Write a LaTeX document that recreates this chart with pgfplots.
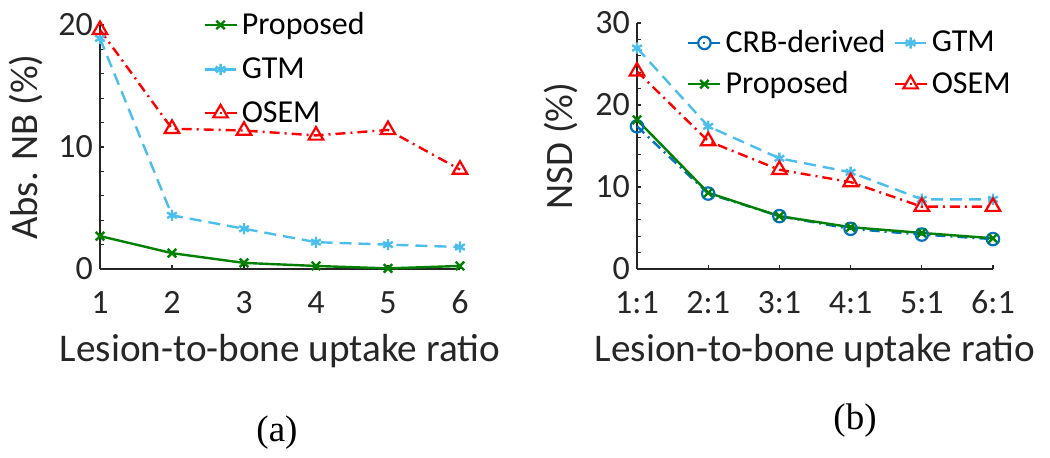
\documentclass[border=0pt]{standalone}
\usepackage{fontspec}
\setmainfont{Carlito}
\newfontfamily\timesfont{Liberation Serif}
\usepackage{pgfplots}
\pgfplotsset{compat=1.18}

\definecolor{cgreen}{rgb}{0,0.5,0}
\definecolor{cgtm}{rgb}{0.30,0.745,0.933}
\definecolor{cblue}{rgb}{0,0.447,0.741}
\definecolor{axgray}{rgb}{0.15,0.15,0.15}

\pgfplotsset{
  mystyle/.style={
    scale only axis,
    axis lines=left,
    axis line style={-, draw=axgray, line width=0.75pt},
    tick align=inside,
    major tick length=2.2pt, minor tick length=2.2pt,
    every tick/.append style={axgray, line width=0.6pt},
    /pgf/number format/assume math mode=true,
    tick label style={font=\fontsize{17}{20}\selectfont, text=axgray},
    xticklabel style={anchor=base, yshift=-22pt},
    yticklabel style={anchor=east},
    every axis x label/.style={at={(axis description cs:0.5,0)}, anchor=base, yshift=-46pt,
      font=\fontsize{19.6}{23}\selectfont, text=axgray},
    xtick={1,2,3,4,5,6},
    xmin=1, xmax=6, ymin=0,
    minor y tick num=4,
    clip=false,
    legend cell align=left,
    legend style={draw=none, fill=none, font=\fontsize{16}{19}\selectfont, text=black,
      inner sep=0pt, nodes={inner sep=2pt}},
    legend image code/.code={\draw[mark repeat=2,mark phase=2,#1] plot coordinates {(0pt,0pt) (8pt,0pt) (16pt,0pt)};},
  },
  sprop/.style={color=cgreen, solid, line width=1.2pt, mark=x, mark size=3pt, mark options={solid, line width=1.2pt}},
  sgtm/.style={color=cgtm, line width=1.2pt, dash pattern=on 6pt off 3.5pt, mark=asterisk, mark size=2.8pt, mark options={solid, line width=1.2pt}},
  sosem/.style={color=red, line width=1.2pt, dash pattern=on 5pt off 2.5pt on 1pt off 2.5pt, mark=triangle, mark size=4.2pt, mark options={solid, line width=1.1pt}},
  scrb/.style={color=cblue, line width=1.2pt, dash pattern=on 5pt off 2.5pt on 1pt off 2.5pt, mark=o, mark size=3.1pt, mark options={solid, line width=1.1pt}},
}

\begin{document}
\begin{tikzpicture}
\useasboundingbox (0,0) rectangle (525pt,228.5pt);

\begin{axis}[mystyle,
  at={(50pt,94pt)}, anchor=south west,
  width=180pt, height=122pt,
  ymax=20, ytick={0,10,20},
  xlabel={Lesion-to-bone uptake ratio},
  ylabel={Abs. NB (\%)},
  every axis y label/.style={at={(axis description cs:-0.175,0.5)}, rotate=90, anchor=base,
    font=\fontsize{19.4}{23}\selectfont, text=axgray},
  legend style={at={(axis description cs:0.286,1.07)}, anchor=north west, row sep=6pt},
]
\addplot[sprop] coordinates {(1,2.7) (2,1.3) (3,0.5) (4,0.25) (5,0.05) (6,0.25)};
\addlegendentry{Proposed}
\addplot[sgtm] coordinates {(1,18.9) (2,4.4) (3,3.3) (4,2.2) (5,2.0) (6,1.8)};
\addlegendentry{GTM}
\addplot[sosem] coordinates {(1,19.6) (2,11.5) (3,11.35) (4,10.95) (5,11.4) (6,8.15)};
\addlegendentry{OSEM}
\end{axis}

\begin{axis}[mystyle,
  at={(318.5pt,94pt)}, anchor=south west,
  width=178pt, height=123pt,
  ymax=30, ytick={0,10,20,30},
  xticklabels={1:1,2:1,3:1,4:1,5:1,6:1},
  xlabel={Lesion-to-bone uptake ratio},
  ylabel={NSD (\%)},
  every axis y label/.style={at={(axis description cs:-0.18,0.5)}, rotate=90, anchor=base,
    font=\fontsize{19.4}{23}\selectfont, text=axgray},
  legend columns=2,
  legend style={at={(axis description cs:0.14,0.988)}, anchor=north west, row sep=4pt,
    /tikz/every even column/.append style={column sep=2pt}},
]
\addplot[scrb] coordinates {(1,17.4) (2,9.2) (3,6.45) (4,4.9) (5,4.2) (6,3.65)};
\addlegendentry{CRB-derived}
\addplot[sgtm] coordinates {(1,26.95) (2,17.4) (3,13.5) (4,11.8) (5,8.5) (6,8.5)};
\addlegendentry{GTM}
\addplot[sprop] coordinates {(1,18.2) (2,9.3) (3,6.45) (4,5.1) (5,4.4) (6,3.75)};
\addlegendentry{Proposed}
\addplot[sosem] coordinates {(1,24.1) (2,15.6) (3,12.1) (4,10.6) (5,7.6) (6,7.6)};
\addlegendentry{OSEM}
\end{axis}

\node[font=\timesfont\fontsize{18.5}{22}\selectfont] at (138.5pt,12pt) {(a)};
\node[font=\timesfont\fontsize{18.5}{22}\selectfont] at (427.5pt,18pt) {(b)};
\end{tikzpicture}
\end{document}
